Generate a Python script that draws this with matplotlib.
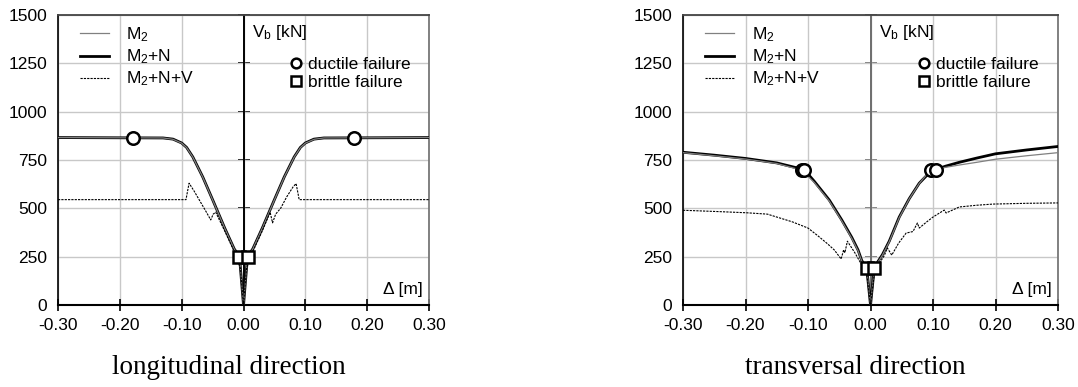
import numpy as np
import matplotlib
matplotlib.use("Agg")
import matplotlib.pyplot as plt
from matplotlib.lines import Line2D

plt.rcParams['font.family'] = ['Liberation Sans', 'DejaVu Sans']
plt.rcParams['mathtext.fontset'] = 'custom'
plt.rcParams['mathtext.rm'] = 'Liberation Sans'
plt.rcParams['mathtext.it'] = 'Liberation Sans:italic'
plt.rcParams['font.size'] = 12.5

# ---- longitudinal direction ----
long_x_mn = [-0.30, -0.13, -0.114, -0.10, -0.092, -0.082, -0.066, -0.05, -0.03, -0.015, -0.0065, 0,
             0.0065, 0.015, 0.03, 0.05, 0.066, 0.082, 0.092, 0.10, 0.114, 0.13, 0.30]
long_v_mn = [866, 864, 858, 838, 815, 766, 663, 545, 395, 290, 250, 0,
             250, 290, 395, 545, 663, 766, 815, 838, 858, 864, 866]
long_v_m2 = [866, 864, 857, 837, 814, 765, 662, 544, 394, 289, 249, 0,
             249, 289, 394, 544, 662, 765, 814, 837, 857, 864, 866]
long_x_mnv = [-0.30, -0.093, -0.091, -0.088, -0.08, -0.07, -0.06, -0.053, -0.049, -0.045, -0.03, -0.012, -0.005, 0,
              0.005, 0.012, 0.03, 0.043, 0.047, 0.052, 0.06, 0.07, 0.08, 0.085, 0.088, 0.09, 0.30]
long_v_mnv = [545, 545, 580, 630, 590, 535, 480, 440, 470, 480, 380, 255, 190, 0,
              190, 255, 380, 480, 425, 470, 500, 560, 610, 628, 580, 545, 545]
long_duct_x = [-0.178, 0.178]
long_duct_v = [865, 865]
long_brit_x = [-0.0065, 0.0065]
long_brit_v = [250, 250]

# ---- transversal direction ----
tr_x_mn = [-0.30, -0.25, -0.20, -0.15, -0.106, -0.09, -0.066, -0.046, -0.03, -0.02, -0.014, -0.006, 0,
           0.006, 0.012, 0.019, 0.03, 0.046, 0.062, 0.078, 0.09, 0.104, 0.12, 0.142, 0.17, 0.20, 0.25, 0.30]
tr_v_mn = [790, 775, 758, 735, 700, 640, 543, 440, 350, 285, 230, 190, 0,
           190, 225, 260, 330, 455, 550, 630, 670, 700, 718, 738, 760, 782, 802, 820]
tr_x_m2 = [-0.30, -0.25, -0.20, -0.15, -0.11, -0.09, -0.066, -0.046, -0.03, -0.02, -0.014, -0.006, 0,
           0.006, 0.012, 0.019, 0.03, 0.046, 0.062, 0.078, 0.096, 0.12, 0.142, 0.17, 0.20, 0.25, 0.30]
tr_v_m2 = [788, 772, 755, 732, 697, 634, 538, 435, 345, 281, 227, 187, 0,
           187, 222, 257, 327, 452, 549, 629, 698, 712, 724, 738, 754, 772, 788]
tr_x_mnv = [-0.30, -0.242, -0.198, -0.165, -0.15, -0.125, -0.10, -0.085, -0.07, -0.058, -0.047, -0.043, -0.041,
            -0.037, -0.025, -0.014, -0.006, 0,
            0.006, 0.014, 0.022, 0.027, 0.034, 0.045, 0.057, 0.068, 0.075, 0.078, 0.09, 0.10, 0.118, 0.121,
            0.142, 0.17, 0.196, 0.25, 0.30]
tr_v_mnv = [490, 483, 477, 470, 455, 430, 398, 360, 320, 285, 238, 285, 270,
            330, 270, 207, 160, 0,
            160, 215, 255, 295, 258, 320, 372, 380, 424, 398, 430, 455, 491, 476,
            507, 516, 522, 526, 528]
tr_duct_x = [-0.11, -0.106, 0.096, 0.104]
tr_duct_v = [697, 700, 698, 700]
tr_brit_x = [-0.006, 0.006]
tr_brit_v = [190, 190]

x_ticks = [-0.30, -0.20, -0.10, 0.00, 0.10, 0.20, 0.30]
y_ticks = [0, 250, 500, 750, 1000, 1250, 1500]
series_labels = ['M$_2$', 'M$_2$+N', 'M$_2$+N+V']
titles = ['longitudinal direction', 'transversal direction']

fig = plt.figure(figsize=(10.78, 3.87), dpi=100)
ax1 = fig.add_axes([58/1078, 82/387, 371/1078, 290/387])
ax2 = fig.add_axes([683/1078, 82/387, 375/1078, 290/387])

panels = [
    (ax1, long_x_mn, long_v_mn, long_x_mn, long_v_m2, long_x_mnv, long_v_mnv,
     long_duct_x, long_duct_v, long_brit_x, long_brit_v, 'black'),
    (ax2, tr_x_mn, tr_v_mn, tr_x_m2, tr_v_m2, tr_x_mnv, tr_v_mnv,
     tr_duct_x, tr_duct_v, tr_brit_x, tr_brit_v, '#6e6e6e'),
]

for i, (ax, xmn, vmn, xm2, vm2, xv, vv, dx, dv, bx, bv, ccol) in enumerate(panels):
    ax.set_xlim(-0.3, 0.3)
    ax.set_ylim(0, 1500)
    ax.set_xticks(x_ticks)
    ax.set_xticklabels(['%.2f' % t for t in x_ticks])
    ax.set_yticks(y_ticks)
    ax.grid(color='#c8c8c8', lw=1)
    ax.set_axisbelow(True)
    ax.tick_params(axis='y', length=0, pad=8)
    ax.tick_params(axis='x', direction='inout', length=8, width=1.2, pad=5)
    ax.spines['left'].set_linewidth(1.2)
    ax.spines['bottom'].set_linewidth(1.5)
    ax.spines['top'].set_color('#444444')
    ax.spines['top'].set_linewidth(1.3)
    ax.spines['right'].set_color('#777777')
    ax.spines['right'].set_linewidth(1.3)

    # vertical axis through zero with crossing ticks
    ax.axvline(0, color=ccol, lw=1.4, zorder=2.5)
    sec = ax.secondary_yaxis(0.5)
    sec.set_yticks(y_ticks)
    sec.tick_params(direction='inout', length=9, width=1.3, color=ccol,
                    labelleft=False, labelright=False)
    for s in sec.spines.values():
        s.set_visible(False)

    l2, = ax.plot(xmn, vmn, color='black', lw=2.0, zorder=3)
    l1, = ax.plot(xm2, vm2, color='#808080', lw=0.9, zorder=4)
    l3, = ax.plot(xv, vv, color='black', lw=0.8, ls=(0, (2, 1)), zorder=4)
    ax.plot(dx, dv, ls='none', marker='o', ms=9, mfc='white', mec='black', mew=1.8, zorder=6)
    ax.plot(bx, bv, ls='none', marker='s', ms=9, mfc='white', mec='black', mew=1.8, zorder=6)

    leg1 = ax.legend([l1, l2, l3], series_labels, loc='upper left', bbox_to_anchor=(0.03, 1.0),
                     frameon=False, handlelength=1.7, handletextpad=1.0, labelspacing=0.2,
                     borderaxespad=0.2, fontsize=12.5)
    ax.add_artist(leg1)
    hd = Line2D([], [], ls='none', marker='o', ms=7, mfc='white', mec='black', mew=1.8)
    hb = Line2D([], [], ls='none', marker='s', ms=7, mfc='white', mec='black', mew=1.8)
    ax.legend([hd, hb], ['ductile failure', 'brittle failure'], loc='upper left',
              bbox_to_anchor=(0.6, 0.89), frameon=False, handlelength=0.6, handletextpad=0.4,
              labelspacing=0.15, borderaxespad=0.2, fontsize=12.5)

    ax.text(0.013, 1408, 'V$_\\mathrm{b}$ [kN]', ha='left', va='center', fontsize=12.5)
    ax.text(0.29, 80, '\u0394 [m]', ha='right', va='center', fontsize=12.5)

    pos = ax.get_position()
    fig.text(pos.x0 + pos.width / 2 - 15/1078, 19/387, titles[i], ha='center', va='center',
             family='Liberation Serif', fontsize=19.5)

fig.savefig('out.png', dpi=100)
